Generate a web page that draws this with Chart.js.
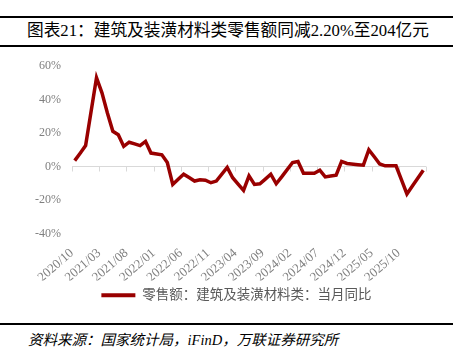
<!DOCTYPE html>
<html>
<head>
<meta charset="utf-8">
<script src="https://cdn.jsdelivr.net/npm/chart.js@4.4.0/dist/chart.umd.min.js"></script>
<style>
  body { margin: 0; background: #fff; }
  #wrap { position: relative; width: 463px; height: 352px; overflow: hidden; }
  .rule { position: absolute; left: 0; width: 453px; height: 2px; background: #000; }
  #title { position: absolute; left: 27px; top: 21px; line-height: 20px; font-size: 16.7px;
           font-family: "Liberation Serif", "Noto Sans CJK SC", serif; color: #000; white-space: nowrap; }
  #foot { position: absolute; left: 28px; top: 331px; line-height: 18px; font-size: 14.5px; font-style: italic;
          font-family: "Liberation Serif", "Noto Sans CJK SC", serif; color: #000; white-space: nowrap; }
  #box { position: absolute; left: 0; top: 47px; width: 453px; height: 275px; }
</style>
</head>
<body>
<div id="wrap">
  <div class="rule" style="top:16px"></div>
  <div id="title">图表21：建筑及装潢材料类零售额同减2.20%至204亿元</div>
  <div class="rule" style="top:45px"></div>
  <div id="box"><canvas id="c" width="453" height="275"></canvas></div>
  <div class="rule" style="top:323px"></div>
  <div id="foot">资料来源：国家统计局，iFinD，万联证券研究所</div>
</div>
<script>
// 零售额:建筑及装潢材料类:当月同比 (%), 1月与2月合并公布, 故无1月
var months = ['2020/10','2020/11','2020/12',
  '2021/02','2021/03','2021/04','2021/05','2021/06','2021/07','2021/08','2021/09','2021/10','2021/11','2021/12',
  '2022/02','2022/03','2022/04','2022/05','2022/06','2022/07','2022/08','2022/09','2022/10','2022/11','2022/12',
  '2023/02','2023/03','2023/04','2023/05','2023/06','2023/07','2023/08','2023/09','2023/10','2023/11','2023/12',
  '2024/02','2024/03','2024/04','2024/05','2024/06','2024/07','2024/08','2024/09','2024/10','2024/11','2024/12',
  '2025/02','2025/03','2025/04','2025/05','2025/06','2025/07','2025/08','2025/09','2025/10','2025/11','2025/12',
  '2026/02'];
var yoy = [3.5, 7.9, 12.5,
  53, 44, 32, 21, 19, 12, 14.5, 13.5, 12.5, 15, 8,
  7, 2.4, -10.7, -7.6, -4.6, -6.6, -8.7, -7.9, -8.2, -9.7, -8.7,
  -0.6, -6.7, -10.5, -14.3, -5.6, -10.7, -10.3, -7.5, -4.6, -10.3, -6.2,
  2.4, 3, -4, -4, -4, -2.2, -6.2, -5.7, -5.2, 3, 1.8,
  1.1, 0.8, 10, 5.8, 1.5, 0.4, 0.4, 0.4, -8, -16.4, -11.7,
  -2.2];
var tickLabels = ['2020/10','2021/03','2021/08','2022/01','2022/06','2022/11','2023/04',
  '2023/09','2024/02','2024/07','2024/12','2025/05','2025/10'];
var yTicks = [-40, -20, 0, 20, 40, 60];
var seriesName = '零售额：建筑及装潢材料类：当月同比';

// month number counted from 2020/10
function monthIdx(s) {
  var p = s.split('/');
  return (parseInt(p[0]) - 2020) * 12 + parseInt(p[1]) - 10;
}
var pts = months.map(function (m, i) { return { x: monthIdx(m), y: yoy[i] }; });

var red = '#990000';
var grey = '#7f7f7f';
var zeroLine = '#d9d9d9';

// little tick marks hanging under the 0% line
var zeroTicks = {
  id: 'zeroTicks',
  beforeDatasetsDraw: function (chart) {
    var xs = chart.scales.x, ys = chart.scales.y, c = chart.ctx;
    var y0 = ys.getPixelForValue(0);
    c.save();
    c.strokeStyle = zeroLine;
    c.lineWidth = 1;
    xs.ticks.forEach(function (t) {
      var px = Math.round(xs.getPixelForValue(t.value)) + 0.5;
      c.beginPath(); c.moveTo(px, y0); c.lineTo(px, y0 + 5); c.stroke();
    });
    c.restore();
  }
};

// legend in the original sits a bit right of the canvas centre
var legendShift = {
  id: 'legendShift',
  beforeDraw: function (chart) {
    chart.legend.left = 47;
    chart.legend.right = 426;
  }
};

new Chart(document.getElementById('c'), {
  type: 'line',
  data: {
    datasets: [{
      label: seriesName,
      data: pts,
      borderColor: red,
      backgroundColor: red,
      borderWidth: 3.5,
      pointRadius: 0,
      tension: 0,
      fill: false
    }]
  },
  options: {
    responsive: false,
    animation: false,
    layout: { padding: { top: 19, right: 27, left: 0, bottom: 10 } },
    plugins: {
      tooltip: { enabled: false },
      legend: {
        position: 'bottom',
        labels: {
          color: '#595959',
          font: { family: '"Liberation Serif", "Noto Sans CJK SC"', size: 13.5 },
          boxWidth: 34,
          boxHeight: 4,
          padding: 8,
          generateLabels: function (chart) {
            return Chart.defaults.plugins.legend.labels.generateLabels(chart).map(function (l) {
              l.lineWidth = 0; return l;
            });
          }
        }
      }
    },
    scales: {
      x: {
        type: 'linear',
        min: -0.5,
        max: 64.5,
        afterBuildTicks: function (s) {
          var t = [];
          for (var k = 0; k <= tickLabels.length; k++) t.push({ value: -0.5 + 5 * k });
          s.ticks = t;
        },
        afterFit: function (s) { s.height = 47; },
        grid: { display: false },
        border: { display: false },
        ticks: {
          color: grey,
          font: { family: '"Liberation Serif"', size: 13 },
          minRotation: 41,
          maxRotation: 41,
          padding: 4,
          autoSkip: false,
          callback: function (v) {
            var k = Math.round((v + 0.5) / 5);
            return tickLabels[k] || '';
          }
        }
      },
      y: {
        min: -40,
        max: 60,
        afterBuildTicks: function (s) {
          s.ticks = yTicks.map(function (v) { return { value: v }; });
        },
        afterFit: function (s) { s.width = 72; },
        border: { display: false },
        grid: {
          drawTicks: false,
          color: function (ctx) { return ctx.tick && ctx.tick.value === 0 ? zeroLine : 'rgba(0,0,0,0)'; }
        },
        ticks: {
          color: grey,
          padding: 11,
          font: { family: '"Liberation Serif"', size: 12 },
          callback: function (v) { return v + '%'; }
        }
      }
    }
  },
  plugins: [zeroTicks, legendShift]
});
</script>
</body>
</html>
